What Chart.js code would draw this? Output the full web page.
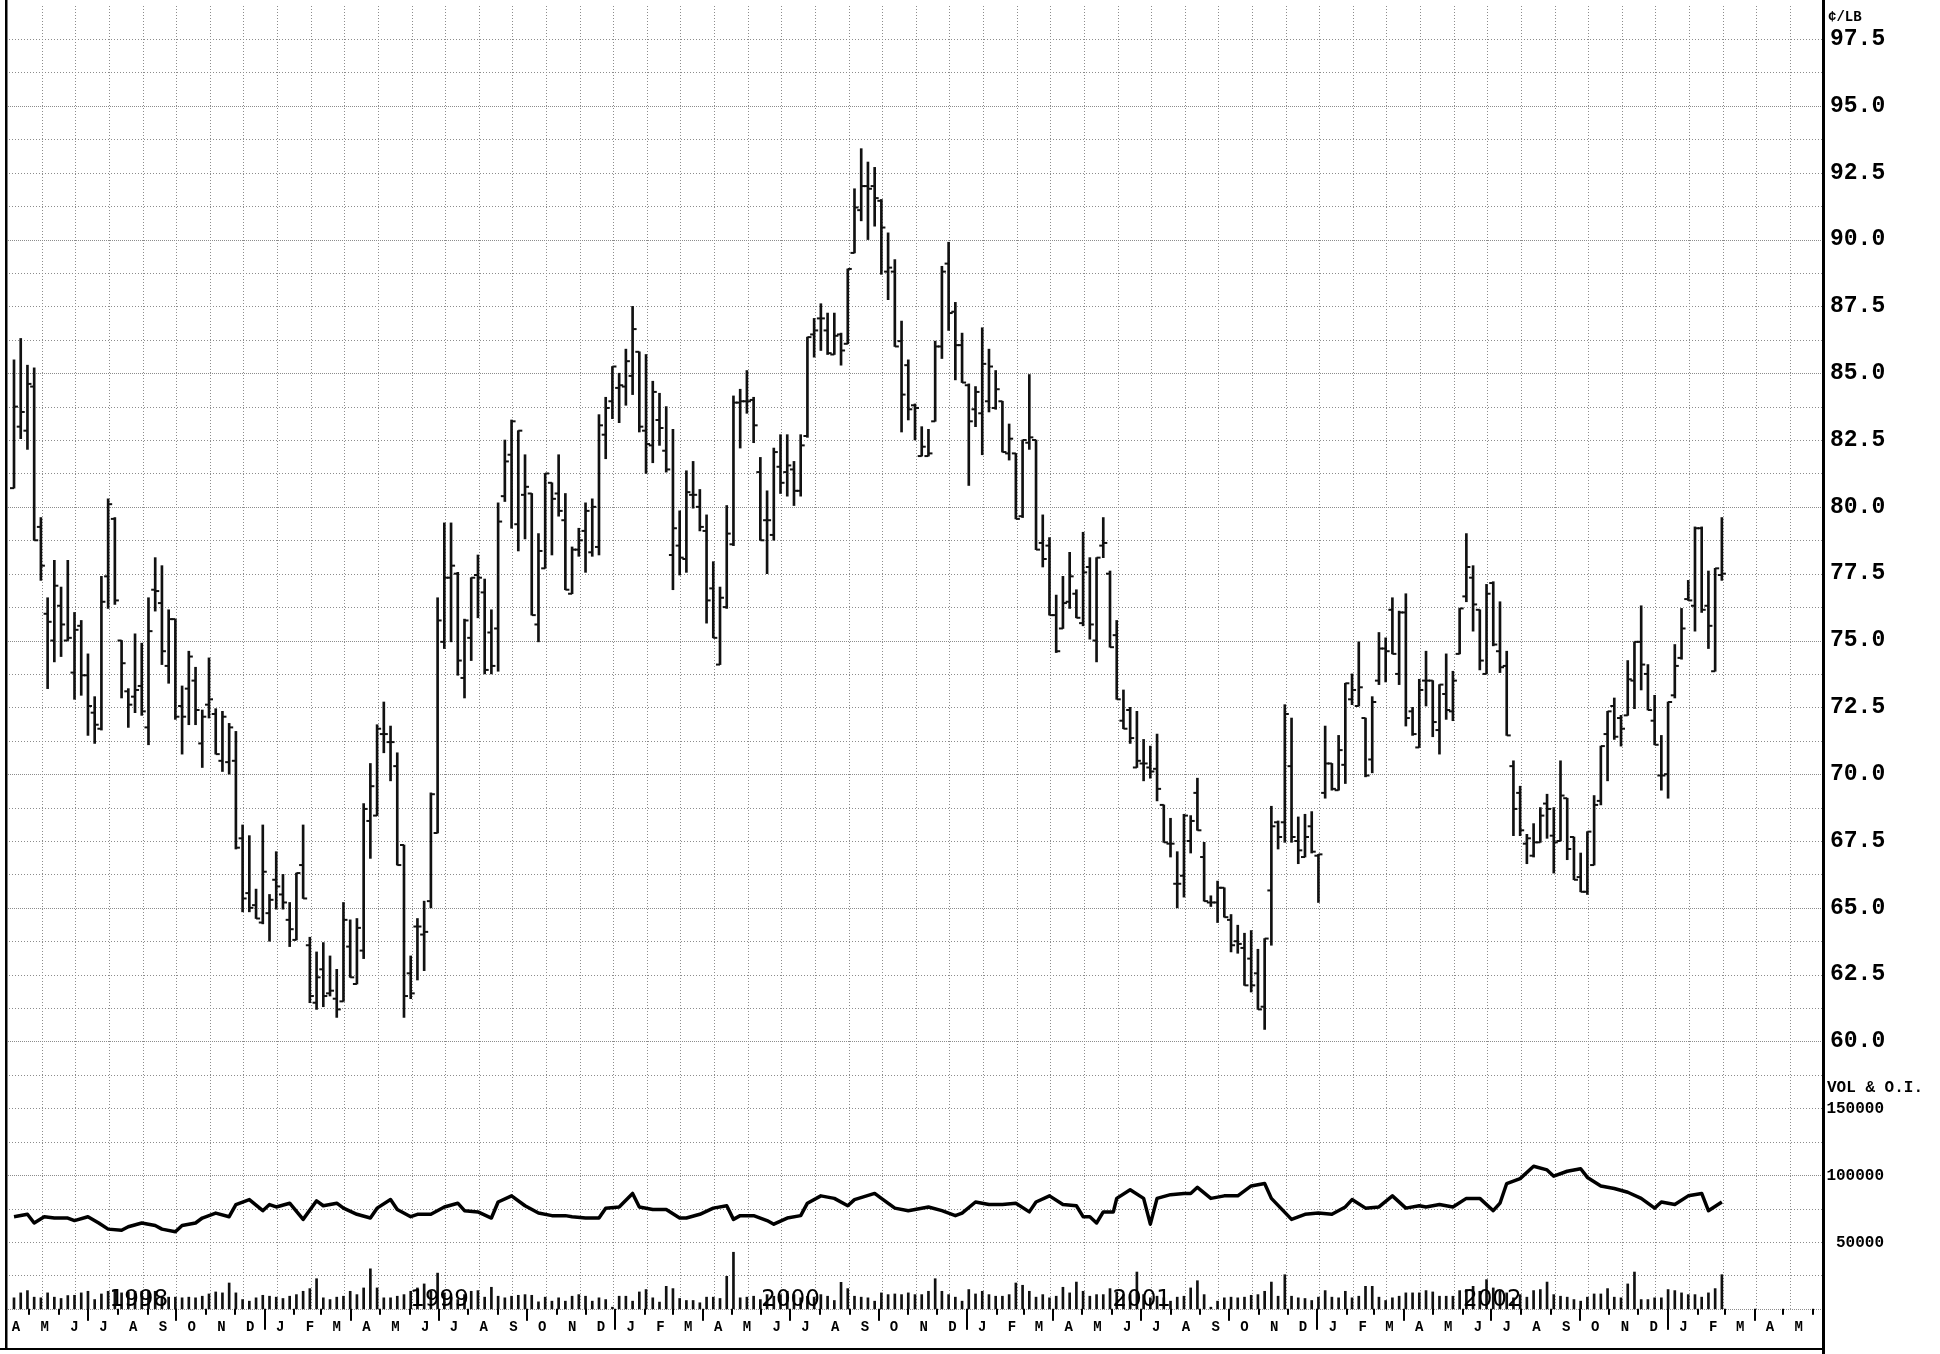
<!DOCTYPE html>
<html>
<head>
<meta charset="utf-8">
<title>Weekly bar chart, cents per pound</title>
<script src="https://cdn.jsdelivr.net/npm/chart.js@4.4.1/dist/chart.umd.min.js"></script>
<style>
  html, body { margin: 0; padding: 0; background: #fff; }
  canvas { display: block; }
</style>
</head>
<body>
<canvas id="chart" width="1940" height="1354"></canvas>
<script>
// weekly bars, bar 0 = week of 15 Apr 1998, last bar = end of Feb 2003
const opens = [
  80.7, 83.0, 82.85, 84.5, 79.25, 76.0, 75.0, 76.3, 75.0, 73.8,
  75.55, 73.7, 72.3, 71.7, 77.4, 79.55, 75.0, 73.1, 72.9, 73.3,
  71.75, 76.9, 76.4, 74.05, 75.8, 72.55, 73.2, 73.5, 71.15, 72.6,
  72.25, 70.5, 70.45, 70.5, 67.6, 65.55, 65.1, 64.45, 64.8, 66.05,
  65.5, 64.55, 63.8, 66.6, 63.6, 61.45, 62.7, 61.8, 61.6, 61.5,
  63.55, 62.15, 63.4, 68.25, 68.45, 71.5, 71.2, 70.3, 67.35, 62.55,
  64.3, 64.0, 65.25, 67.8, 74.95, 77.35, 77.5, 73.6, 75.1, 77.45,
  76.8, 75.3, 75.45, 80.4, 81.95, 79.35, 80.45, 80.5, 75.6, 77.7,
  80.9, 80.5, 79.5, 76.75, 78.4, 79.1, 78.3, 78.5, 82.7, 83.95,
  84.45, 84.5, 84.9, 85.8, 82.85, 82.3, 83.25, 82.1, 78.2, 78.55,
  78.05, 80.45, 80.0, 79.1, 76.95, 74.1, 76.25, 78.6, 83.9, 83.95,
  84.0, 81.3, 79.5, 78.95, 81.5, 81.3, 81.4, 80.6, 82.65, 86.45,
  87.05, 86.6, 85.7, 86.45, 86.1, 89.5, 91.1, 92.0, 92.0, 91.45,
  88.8, 88.8, 86.2, 85.3, 83.8, 81.9, 81.9, 83.2, 86.0, 89.1,
  87.3, 86.05, 84.55, 83.65, 83.5, 83.95, 83.7, 83.95, 82.0, 82.0,
  79.65, 82.4, 82.5, 78.65, 78.55, 75.95, 75.45, 76.45, 76.75, 75.65,
  77.75, 75.0, 78.55, 77.5, 75.2, 72.0, 72.4, 70.25, 70.4, 70.25,
  70.2, 68.85, 67.4, 65.9, 66.2, 67.5, 69.3, 66.9, 65.2, 65.2,
  65.75, 64.55, 63.75, 63.5, 63.1, 62.55, 61.3, 65.65, 68.2, 68.2,
  70.3, 67.5, 66.9, 68.05, 66.95, 69.3, 70.4, 69.4, 70.35, 72.8,
  72.55, 72.1, 70.55, 73.5, 74.7, 76.15, 73.75, 76.05, 72.35, 71.0,
  73.5, 73.5, 71.65, 73.0, 72.35, 74.5, 76.65, 77.35, 76.15, 73.75,
  77.15, 74.6, 74.05, 70.3, 69.3, 67.4, 66.95, 67.45, 68.9, 67.7,
  67.5, 69.1, 67.65, 66.15, 65.6, 66.6, 69.0, 71.5, 72.55, 72.1,
  72.2, 73.5, 74.95, 73.75, 72.0, 69.95, 70.0, 72.95, 74.35, 76.55,
  76.3, 79.2, 76.3, 73.85, 77.45
];
const highs = [
  85.5, 86.3, 85.3, 85.2, 79.6, 76.6, 78.0, 77.0, 78.0, 76.05,
  75.75, 74.5, 72.9, 77.4, 80.3, 79.6, 75.0, 73.2, 75.25, 74.9,
  76.6, 78.1, 77.8, 76.15, 75.8, 73.3, 74.6, 74.0, 72.4, 74.35,
  72.45, 72.35, 71.9, 71.6, 68.1, 67.7, 65.7, 68.1, 65.5, 67.1,
  66.25, 65.2, 66.3, 68.1, 63.9, 63.35, 63.7, 63.2, 62.7, 65.2,
  64.55, 64.6, 68.9, 70.4, 71.85, 72.7, 71.8, 70.8, 67.35, 63.2,
  64.6, 65.25, 69.3, 76.6, 79.4, 79.4, 77.55, 75.8, 77.35, 78.2,
  77.3, 76.15, 80.15, 82.5, 83.25, 82.85, 81.95, 80.5, 79.0, 81.25,
  80.9, 81.95, 80.5, 78.5, 79.2, 80.15, 80.3, 83.45, 84.1, 85.25,
  85.0, 85.9, 87.5, 85.8, 85.7, 84.7, 84.25, 83.75, 82.9, 79.85,
  81.35, 81.7, 80.65, 79.7, 77.95, 77.0, 80.05, 84.15, 84.4, 85.1,
  84.1, 81.85, 80.6, 82.2, 82.7, 82.7, 81.7, 82.7, 86.35, 87.05,
  87.6, 87.25, 87.25, 86.5, 88.9, 91.9, 93.4, 92.9, 92.7, 91.5,
  90.25, 89.25, 86.95, 85.5, 83.85, 83.0, 82.9, 86.2, 89.0, 89.9,
  87.65, 86.5, 84.6, 84.5, 86.7, 85.9, 85.1, 83.95, 83.1, 82.0,
  82.5, 84.95, 82.5, 79.7, 78.85, 76.7, 77.4, 78.3, 76.9, 79.05,
  78.1, 78.1, 79.6, 77.6, 75.75, 73.15, 72.5, 72.35, 71.3, 71.05,
  71.5, 68.85, 68.35, 67.1, 68.5, 68.45, 69.85, 67.45, 65.45, 66.0,
  65.75, 64.75, 64.35, 64.05, 64.15, 63.45, 63.85, 68.8, 68.25, 72.6,
  72.1, 68.4, 68.5, 68.6, 67.0, 71.8, 70.4, 71.45, 73.4, 73.75,
  74.95, 72.1, 72.9, 75.3, 75.1, 76.6, 76.1, 76.75, 72.5, 73.55,
  74.6, 73.5, 73.35, 74.5, 73.85, 76.2, 79.0, 77.8, 76.15, 77.1,
  77.2, 76.45, 74.6, 70.5, 69.55, 67.75, 68.15, 68.75, 69.25, 68.75,
  70.5, 69.1, 67.65, 67.05, 67.85, 69.2, 71.05, 72.35, 72.85, 72.2,
  74.25, 74.95, 76.3, 74.1, 72.95, 71.45, 72.7, 74.85, 76.2, 77.25,
  79.25, 79.25, 77.6, 77.7, 79.6
];
const lows = [
  80.7, 82.55, 82.15, 78.75, 77.25, 73.2, 74.2, 74.4, 75.0, 72.8,
  72.95, 71.45, 71.15, 71.65, 76.2, 76.35, 72.85, 71.75, 72.3, 72.2,
  71.1, 76.1, 74.1, 73.4, 72.05, 70.75, 71.85, 71.85, 70.25, 72.1,
  70.75, 70.1, 70.0, 67.2, 64.85, 64.85, 64.6, 64.4, 63.75, 64.95,
  64.95, 63.55, 63.8, 65.35, 61.45, 61.2, 61.3, 61.7, 60.9, 61.5,
  62.4, 62.15, 63.1, 66.85, 68.45, 70.8, 69.75, 66.6, 60.9, 61.6,
  62.3, 62.65, 65.0, 67.8, 74.7, 74.95, 73.7, 72.85, 74.25, 75.85,
  73.75, 73.75, 73.85, 80.2, 79.2, 78.35, 78.8, 75.95, 74.95, 77.7,
  78.2, 79.65, 76.9, 76.75, 78.15, 77.55, 78.15, 78.2, 81.8, 83.3,
  83.15, 83.8, 84.2, 82.8, 81.25, 81.65, 82.3, 81.3, 76.9, 77.45,
  77.55, 79.95, 79.1, 75.65, 75.1, 74.1, 76.2, 78.55, 82.2, 83.5,
  82.4, 78.75, 77.5, 78.75, 80.5, 80.4, 80.05, 80.4, 82.6, 85.6,
  85.85, 85.7, 85.7, 85.3, 86.1, 89.5, 90.7, 90.0, 90.5, 88.7,
  87.75, 86.0, 82.8, 83.25, 82.5, 81.9, 81.9, 83.2, 85.55, 86.6,
  84.75, 84.65, 80.8, 83.0, 81.95, 83.55, 83.65, 82.05, 81.75, 79.55,
  79.6, 82.15, 78.4, 77.75, 75.95, 74.55, 75.45, 76.2, 75.85, 75.55,
  75.05, 74.2, 78.1, 74.75, 72.8, 71.7, 71.15, 70.25, 69.75, 69.85,
  69.0, 67.45, 66.9, 65.0, 65.4, 67.05, 67.9, 65.25, 65.05, 64.45,
  64.65, 63.35, 63.3, 62.1, 61.85, 61.2, 60.45, 63.6, 67.2, 67.45,
  67.45, 66.65, 66.9, 67.05, 65.2, 69.1, 69.4, 69.4, 69.65, 72.6,
  72.55, 69.9, 70.05, 73.35, 73.45, 74.5, 73.35, 71.8, 71.45, 71.0,
  72.55, 71.4, 70.75, 72.05, 72.0, 74.5, 76.45, 75.35, 73.9, 73.75,
  74.8, 73.8, 71.45, 67.7, 67.7, 66.65, 66.9, 67.45, 67.6, 66.3,
  67.5, 66.8, 66.05, 65.6, 65.5, 66.6, 68.85, 69.75, 71.3, 71.05,
  72.2, 72.45, 73.15, 72.4, 71.1, 69.4, 69.1, 72.85, 74.3, 76.5,
  75.35, 76.05, 74.7, 73.85, 77.25
];
const closes = [
  83.75, 83.55, 84.6, 78.75, 77.8, 75.7, 77.05, 75.6, 75.1, 75.4,
  73.7, 72.55, 71.85, 76.45, 80.1, 76.5, 74.15, 72.6, 73.15, 72.35,
  75.35, 76.85, 74.6, 75.8, 72.15, 72.15, 74.4, 72.4, 72.15, 72.8,
  70.75, 72.15, 71.75, 67.25, 65.35, 65.0, 64.6, 66.35, 65.3, 65.8,
  65.2, 64.2, 66.3, 65.35, 61.7, 62.4, 61.7, 61.9, 61.2, 64.55,
  62.4, 64.25, 68.7, 69.55, 71.7, 71.5, 71.2, 66.6, 61.7, 61.8,
  64.3, 64.1, 69.25, 75.75, 77.35, 77.8, 74.25, 75.75, 77.35, 77.35,
  73.9, 74.05, 79.45, 81.7, 83.2, 82.85, 80.75, 75.95, 78.35, 81.25,
  80.3, 79.85, 76.9, 78.4, 78.75, 79.85, 80.0, 83.05, 83.7, 85.25,
  84.55, 85.45, 86.65, 83.0, 82.35, 84.3, 82.95, 81.4, 79.2, 78.1,
  80.55, 80.45, 79.25, 76.5, 75.1, 76.6, 79.0, 83.9, 83.95, 83.95,
  83.05, 78.75, 79.5, 82.05, 80.9, 81.55, 80.6, 82.3, 86.35, 86.6,
  87.05, 85.75, 86.4, 85.85, 88.9, 91.2, 92.0, 91.9, 91.55, 90.45,
  88.95, 86.0, 84.2, 83.65, 83.7, 82.25, 82.0, 86.0, 88.8, 87.25,
  86.05, 84.65, 83.2, 84.3, 85.35, 85.25, 84.4, 82.05, 82.55, 79.55,
  82.5, 82.6, 78.4, 78.05, 75.95, 74.6, 76.4, 77.4, 75.85, 77.55,
  75.6, 78.1, 78.65, 74.75, 72.8, 71.7, 71.35, 70.5, 70.4, 70.1,
  69.45, 67.45, 67.4, 65.9, 68.45, 68.25, 67.9, 65.25, 65.2, 65.75,
  64.65, 63.6, 63.65, 62.1, 62.1, 61.2, 63.85, 68.05, 67.65, 72.25,
  67.65, 67.15, 67.65, 67.1, 67.0, 70.4, 69.45, 70.9, 73.4, 73.15,
  73.25, 69.95, 72.7, 74.7, 74.6, 74.5, 76.05, 72.1, 71.5, 73.15,
  73.5, 71.95, 73.35, 72.4, 73.5, 76.2, 77.75, 76.35, 74.25, 76.75,
  74.85, 74.0, 71.45, 68.7, 67.9, 67.6, 67.45, 68.45, 68.7, 67.45,
  69.2, 67.2, 66.05, 65.6, 67.85, 68.85, 71.05, 72.35, 71.4, 71.7,
  73.55, 74.95, 74.1, 72.4, 71.1, 69.95, 72.7, 74.05, 75.45, 76.5,
  79.2, 76.15, 75.55, 77.7, 77.5
];
// weekly volume, thousands of contracts
const volumes = [
  8.2, 11.9, 13.6, 8.7, 8.2, 11.9, 8.7, 7.7, 9.9, 10.1,
  11.9, 13.1, 6.9, 11.1, 13.1, 14.4, 11.9, 12.6, 13.1, 13.1,
  13.6, 13.1, 9.4, 8.7, 8.7, 8.2, 8.7, 8.2, 9.4, 11.1,
  12.6, 11.9, 19.3, 11.9, 6.9, 5.7, 8.2, 10.1, 9.4, 8.7,
  7.7, 9.4, 10.6, 13.1, 15.1, 22.5, 8.2, 6.9, 8.7, 9.4,
  13.1, 10.6, 15.6, 29.9, 15.6, 8.2, 8.2, 9.4, 10.6, 13.1,
  15.6, 18.6, 13.1, 26.7, 11.9, 8.2, 6.9, 10.6, 13.1, 13.6,
  8.7, 16.1, 9.4, 8.2, 9.4, 10.1, 10.6, 10.1, 5.2, 8.7,
  5.7, 8.2, 5.7, 9.4, 10.6, 9.4, 5.7, 8.2, 6.9, 1.2,
  9.4, 9.4, 5.7, 12.6, 14.4, 8.2, 5.0, 16.8, 15.1, 7.7,
  6.2, 6.2, 4.5, 8.7, 8.7, 7.7, 24.3, 42.3, 8.2, 8.7,
  9.4, 6.9, 10.6, 9.4, 10.6, 13.1, 10.6, 8.2, 9.4, 8.7,
  10.6, 9.4, 6.2, 19.8, 15.1, 9.4, 8.7, 8.2, 5.7, 11.9,
  10.6, 11.1, 10.6, 11.9, 10.6, 10.6, 13.1, 22.5, 13.1, 10.6,
  8.7, 5.7, 14.4, 11.1, 13.1, 10.6, 9.4, 9.4, 10.6, 19.3,
  17.6, 13.1, 8.7, 10.6, 8.2, 9.4, 16.1, 11.9, 20.0, 13.1,
  9.4, 10.6, 10.6, 15.1, 12.6, 10.6, 10.6, 27.5, 10.6, 8.2,
  9.4, 8.2, 5.7, 8.7, 9.4, 15.6, 21.0, 10.6, 1.2, 5.7,
  8.2, 8.7, 8.2, 8.7, 10.1, 10.6, 13.1, 20.0, 9.4, 25.5,
  9.4, 8.2, 7.7, 6.2, 8.7, 13.6, 8.7, 8.2, 13.1, 8.2,
  9.4, 16.8, 16.8, 8.7, 6.2, 8.2, 9.4, 11.9, 11.9, 11.9,
  13.6, 12.6, 9.4, 9.4, 9.4, 13.6, 14.4, 16.8, 13.1, 21.8,
  15.6, 13.1, 11.9, 8.2, 10.6, 8.7, 13.6, 14.4, 20.0, 10.6,
  9.4, 8.7, 6.9, 5.7, 8.7, 11.1, 11.1, 15.1, 8.7, 8.2,
  18.6, 27.5, 6.9, 6.9, 8.2, 8.2, 14.4, 13.6, 11.9, 10.6,
  10.6, 8.7, 11.9, 15.1, 25.5
];
// open interest, [week, contracts]
const openInterest = [
  [0, 68900], [2, 70700], [3, 64200], [4.5, 68900], [6, 67900], [8, 67900], [9, 66000], [11, 68900],
  [12.6, 64200], [14, 59600], [16, 58700], [17, 61400], [19, 64200], [21, 62300], [22, 59600], [24, 57700],
  [25, 62300], [27, 64200], [28, 67900], [30, 71600], [32, 68900], [33, 78000], [35, 81700], [37, 73400],
  [38, 78000], [39, 76200], [41, 79000], [43, 66900], [45, 80800], [46, 77100], [48, 79000], [49, 75300],
  [51, 70700], [53, 67900], [54, 75300], [56, 81700], [57, 74300], [59, 68900], [60, 70700], [62, 70700],
  [64, 76200], [66, 79000], [67, 73400], [69, 72500], [71, 67900], [72, 79900], [74, 84500], [76, 77100],
  [78, 71600], [80, 69700], [82, 69700], [83, 68900], [85, 67900], [87, 67900], [88, 75300], [90, 76200],
  [92, 86300], [93, 76200], [95, 74300], [97, 74300], [99, 67900], [100, 67900], [102, 70700], [104, 75300],
  [106, 77100], [107, 66900], [108, 69700], [110, 69700], [112, 66000], [113, 63300], [115, 67900], [117, 69700],
  [118, 79000], [120, 84500], [122, 82600], [124, 77100], [125, 81700], [128, 86300], [129, 82600], [131, 75300],
  [133, 73400], [134, 74300], [136, 76200], [138, 73400], [140, 69700], [141, 71600], [143, 79900], [145, 78000],
  [147, 78000], [149, 79000], [151, 72500], [152, 79900], [154, 84500], [156, 78000], [158, 77100], [159, 68900],
  [160, 68900], [161, 64200], [162, 72500], [163.5, 72500], [164, 82600], [166, 89100], [168, 82600], [169, 63300],
  [170, 82600], [172, 85400], [174, 86300], [175, 86300], [176, 90900], [178, 82600], [180, 84500], [182, 84500],
  [184, 91900], [186, 93700], [187, 82600], [190, 66900], [192, 70700], [194, 71600], [196, 70700], [198, 76200],
  [199, 81700], [201, 75300], [203, 76200], [205, 84500], [207, 75300], [209, 77100], [210, 76200], [212, 78000],
  [214, 76200], [216, 82600], [218, 82600], [220, 73400], [221, 79000], [222, 93700], [224, 97400], [226, 106600],
  [228, 103900], [229, 99200], [231, 102900], [233, 104800], [234, 98300], [236, 91900], [238, 90000], [240, 87200],
  [242, 82600], [244, 75300], [245, 79900], [247, 78000], [249, 84500], [251, 86300], [252, 73400], [254, 79900]
];
const priceTicks = [60, 62.5, 65, 67.5, 70, 72.5, 75, 77.5, 80, 82.5, 85, 87.5, 90, 92.5, 95, 97.5];
const volumeTicks = [50000, 100000, 150000];
const monthLetters = ['J', 'F', 'M', 'A', 'M', 'J', 'J', 'A', 'S', 'O', 'N', 'D'];
const yearLabels = ['1998', '1999', '2000', '2001', '2002'];

const START = Date.UTC(1998, 3, 15);
function weekOf(y, m, d) {
  return (Date.UTC(y, m, d) - START) / (7 * 86400000);
}

// dotted chart paper
const paperGrid = {
  id: 'paperGrid',
  beforeDatasetsDraw(chart) {
    const {ctx, chartArea: a, scales: {x, y}} = chart;
    const base = y.getPixelForValue(50);
    ctx.save();
    ctx.strokeStyle = '#8c8c8c';
    ctx.lineWidth = 1;
    for (let k = 0; k <= 38; k++) {
      const py = Math.round(y.getPixelForValue(50 + k * 1.25)) + 0.5;
      ctx.setLineDash(k % 4 === 0 ? [1, 1] : [1, 2]);
      ctx.beginPath();
      ctx.moveTo(a.left, py);
      ctx.lineTo(a.right, py);
      ctx.stroke();
    }
    ctx.setLineDash([1, 2]);
    for (let w = 4.12; w < x.max; w += 5) {
      const px = Math.round(x.getPixelForValue(w)) + 0.5;
      ctx.beginPath();
      ctx.moveTo(px, a.top);
      ctx.lineTo(px, base);
      ctx.stroke();
    }
    ctx.restore();
  }
};

// frame, time axis, right-hand labels
const axisText = {
  id: 'axisText',
  afterDraw(chart) {
    const {ctx, chartArea: a, scales: {x, y, yVol}} = chart;
    const base = yVol.getPixelForValue(0);
    ctx.save();
    ctx.fillStyle = '#000';

    // month ticks and letters
    ctx.font = 'bold 14px "Liberation Mono"';
    ctx.textAlign = 'center';
    ctx.textBaseline = 'middle';
    for (let yr = 1998, m = 3; yr < 2003 || m <= 4; m++) {
      if (m > 11) { m = 0; yr++; }
      const mid = x.getPixelForValue(weekOf(yr, m, 17));
      ctx.fillText(monthLetters[m], mid, base + 19);
      const nm = m === 11 ? 0 : m + 1;
      const ny = m === 11 ? yr + 1 : yr;
      const tx = x.getPixelForValue(weekOf(ny, nm, 1));
      const len = nm === 0 ? 21 : (nm % 3 === 0 ? 12 : 6);
      ctx.fillRect(Math.round(tx) - 1, base, 2, len);
      if (yr === 2003 && m === 4) break;
    }

    // year captions
    ctx.font = '23px "DejaVu Sans"';
    yearLabels.forEach((label) => {
      const yr = Number(label);
      const from = Math.max(weekOf(yr, 0, 1), 0);
      const to = weekOf(yr, 11, 31);
      ctx.fillText(label, x.getPixelForValue((from + to) / 2), base - 9);
    });

    // frame
    ctx.fillRect(a.left - 1, 0, 2.5, a.bottom + 2);
    ctx.fillRect(a.right - 1, 0, 3, chart.height);
    ctx.fillRect(0, a.bottom, a.right + 2, 2);

    // price scale
    ctx.textAlign = 'left';
    ctx.font = 'bold 23px "Liberation Mono"';
    priceTicks.forEach((p) => {
      ctx.fillText(p.toFixed(1), a.right + 7, y.getPixelForValue(p));
    });
    ctx.font = 'bold 14px "Liberation Mono"';
    ctx.fillText('¢/LB', a.right + 5, y.getPixelForValue(98.31));

    // volume & open interest scale
    ctx.font = 'bold 16px "Liberation Mono"';
    ctx.fillText('VOL & O.I.', a.right + 4, yVol.getPixelForValue(165000));
    ctx.textAlign = 'right';
    volumeTicks.forEach((v) => {
      ctx.fillText(String(v), a.right + 61, yVol.getPixelForValue(v) + 1);
    });
    ctx.restore();
  }
};

const priceMin = 48.533, priceMax = 98.737;
const tickShift = 0.3;

new Chart(document.getElementById('chart'), {
  type: 'bar',
  data: {
    datasets: [
      {
        type: 'bar',
        data: highs.map((h, i) => ({ x: i, y: [lows[i], h] })),
        backgroundColor: '#111',
        grouped: false,
        barThickness: 2,
        maxBarThickness: 2,
        yAxisID: 'y'
      },
      {
        type: 'scatter',
        data: opens.map((o, i) => ({ x: i - tickShift, y: o })),
        pointStyle: 'line',
        pointRadius: 2,
        pointBorderWidth: 2,
        borderColor: '#111',
        yAxisID: 'y'
      },
      {
        type: 'scatter',
        data: closes.map((c, i) => ({ x: i + tickShift, y: c })),
        pointStyle: 'line',
        pointRadius: 2,
        pointBorderWidth: 2,
        borderColor: '#111',
        yAxisID: 'y'
      },
      {
        type: 'line',
        data: openInterest.map(([w, v]) => ({ x: w, y: v })),
        borderColor: '#000',
        borderWidth: 3.5,
        borderJoinStyle: 'round',
        pointRadius: 0,
        tension: 0,
        fill: false,
        yAxisID: 'yVol'
      },
      {
        type: 'bar',
        data: volumes.map((v, i) => ({ x: i, y: v * 1000 })),
        backgroundColor: '#111',
        grouped: false,
        barThickness: 2,
        maxBarThickness: 2,
        yAxisID: 'yVol'
      }
    ]
  },
  options: {
    responsive: false,
    animation: false,
    devicePixelRatio: 1,
    layout: { padding: { left: 6, right: 117, top: 0, bottom: 3 } },
    plugins: { legend: { display: false }, tooltip: { enabled: false } },
    scales: {
      x: { type: 'linear', min: -1.19, max: 269.04, offset: false, display: false },
      y: { type: 'linear', min: priceMin, max: priceMax, beginAtZero: false, display: false },
      yVol: { type: 'linear', min: (priceMin - 50) * 20000, max: (priceMax - 50) * 20000, beginAtZero: false, display: false }
    }
  },
  plugins: [paperGrid, axisText]
});
</script>
</body>
</html>
